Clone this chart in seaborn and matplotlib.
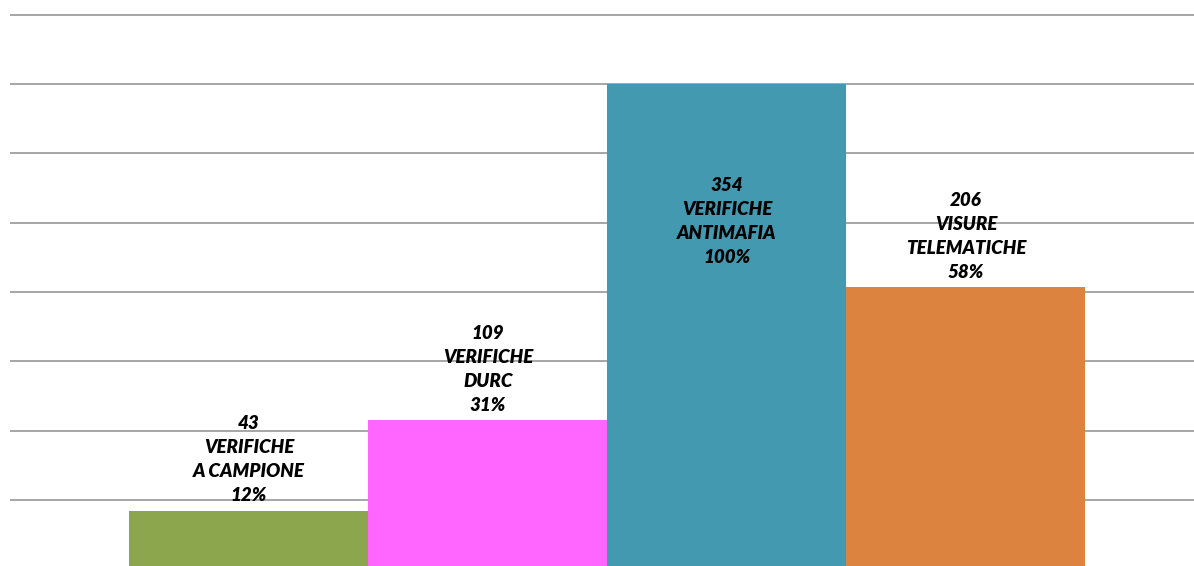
import matplotlib
matplotlib.use("Agg")
import matplotlib.pyplot as plt
import seaborn as sns
import numpy as np
import pandas as pd

# dati
categorie = ["VERIFICHE\nA CAMPIONE", "VERIFICHE\nDURC", "VERIFICHE\nANTIMAFIA", "VISURE\nTELEMATICHE"]
valori = [43, 109, 354, 206]
percentuali = ["12%", "31%", "100%", "58%"]
colori = ["#8BA64D", "#FF66FF", "#4399B0", "#DC8340"]

df = pd.DataFrame({"cat": categorie, "val": valori})

sns.set_theme(style="white")
plt.rcParams["font.family"] = ["Lato", "DejaVu Sans"]

fig = plt.figure(figsize=(11.94, 5.66), dpi=100)
ax = fig.add_axes([10 / 1194, 0, 1184 / 1194, 1])

sns.barplot(data=df, x="cat", y="val", hue="cat", palette=colori, width=1.0,
            legend=False, ax=ax, saturation=1, linewidth=0, zorder=3)

passo = max(valori) / 7
ax.set_yticks(np.arange(1, 9) * passo)
ax.grid(axis="y", color="#a6a6a6", linewidth=1.4, zorder=0)
ax.set_ylim(2.55, 415.2)
ax.set_xlim(-1.0, 3.954)
ax.set_xticks([])
ax.set_yticklabels([])
ax.tick_params(left=False, bottom=False)
ax.set_xlabel("")
ax.set_ylabel("")
for s in ax.spines.values():
    s.set_visible(False)

stile = dict(ha="center", fontsize=13.5, fontweight="heavy", fontstyle="italic",
             linespacing=1.5, color="black", zorder=4)
for i, (v, c, p) in enumerate(zip(valori, categorie, percentuali)):
    testo = f"{v}\n{c}\n{p}"
    if v + 75 > ax.get_ylim()[1]:
        ax.text(i, v - 68, testo, va="top", **stile)
    else:
        ax.text(i, v + 4.5, testo, va="bottom", **stile)

fig.savefig("out.png", dpi=100)
